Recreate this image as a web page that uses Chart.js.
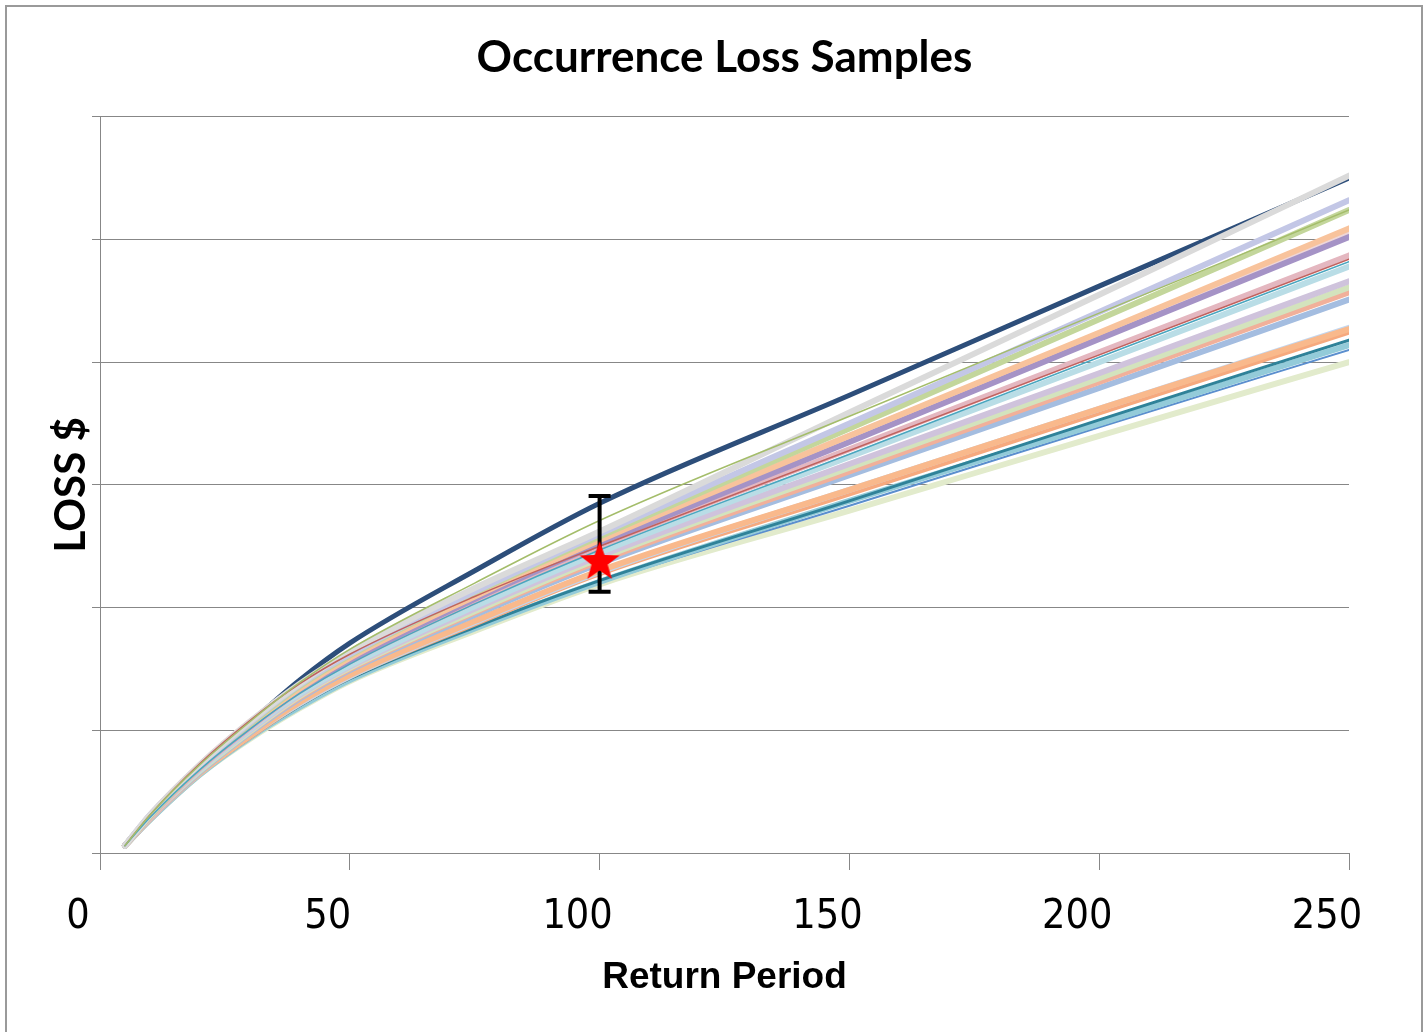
<!DOCTYPE html>
<html>
<head>
<meta charset="utf-8">
<title>Occurrence Loss Samples</title>
<script src="https://cdn.jsdelivr.net/npm/chart.js@4/dist/chart.umd.min.js"></script>
<style>
  html, body { margin: 0; padding: 0; background: #fff; overflow: hidden; }
  #frame { position: absolute; left: 5px; top: 5px; width: 1414px; height: 1100px; border: 2px solid #9a9a9a; }
  #chart { position: absolute; left: 0; top: 0; }
</style>
</head>
<body>
<div id="frame"></div>
<canvas id="chart" width="1427" height="1032"></canvas>
<script>
// Return periods sampled along every curve
const returnPeriods = [5, 10, 20, 30, 40, 50, 75, 100, 150, 200, 250];

// Loss samples (arbitrary units, axis has no labels)
const lossNavy      = [0.06, 0.30, 0.70, 1.06, 1.41, 1.71, 2.30, 2.85, 3.73, 4.62, 5.50];
const lossOlive     = [0.06, 0.31, 0.72, 1.07, 1.39, 1.66, 2.20, 2.71, 3.56, 4.40, 5.24];
const lossGrey      = [0.06, 0.31, 0.72, 1.07, 1.38, 1.64, 2.16, 2.62, 3.59, 4.55, 5.52];
const lossLavender  = [0.06, 0.31, 0.71, 1.06, 1.37, 1.62, 2.13, 2.60, 3.50, 4.41, 5.32];
const lossGreen     = [0.06, 0.30, 0.71, 1.05, 1.36, 1.61, 2.12, 2.58, 3.46, 4.35, 5.24];
const lossBlush     = [0.06, 0.31, 0.72, 1.07, 1.37, 1.62, 2.12, 2.57, 3.40, 4.22, 5.05];
const lossRose      = [0.06, 0.31, 0.73, 1.08, 1.38, 1.62, 2.09, 2.50, 3.28, 4.06, 4.84];
const lossPeach     = [0.06, 0.30, 0.70, 1.04, 1.34, 1.59, 2.09, 2.55, 3.40, 4.24, 5.09];
const lossPurple    = [0.06, 0.30, 0.70, 1.03, 1.33, 1.57, 2.07, 2.52, 3.35, 4.19, 5.02];
const lossPink      = [0.06, 0.29, 0.69, 1.02, 1.32, 1.56, 2.05, 2.50, 3.29, 4.08, 4.87];
const lossTealThin  = [0.06, 0.29, 0.68, 1.01, 1.30, 1.54, 2.03, 2.47, 3.25, 4.04, 4.82];
const lossSky       = [0.06, 0.29, 0.68, 1.01, 1.30, 1.53, 2.01, 2.45, 3.23, 4.00, 4.78];
const lossLilac     = [0.06, 0.29, 0.68, 1.00, 1.29, 1.52, 1.99, 2.42, 3.17, 3.91, 4.66];
const lossMint      = [0.06, 0.29, 0.67, 0.99, 1.28, 1.51, 1.97, 2.40, 3.14, 3.87, 4.61];
const lossSalmon    = [0.06, 0.28, 0.67, 0.99, 1.27, 1.50, 1.96, 2.38, 3.11, 3.84, 4.57];
const lossSteel     = [0.06, 0.28, 0.66, 0.98, 1.26, 1.49, 1.94, 2.36, 3.08, 3.79, 4.51];
const lossOrange    = [0.06, 0.28, 0.65, 0.96, 1.23, 1.45, 1.89, 2.30, 2.96, 3.62, 4.27];
const lossPaleBlue  = [0.06, 0.28, 0.65, 0.96, 1.22, 1.44, 1.88, 2.29, 2.96, 3.62, 4.28];
const lossApricot   = [0.06, 0.28, 0.65, 0.95, 1.22, 1.44, 1.87, 2.28, 2.93, 3.59, 4.25];
const lossTeal      = [0.06, 0.27, 0.64, 0.94, 1.20, 1.42, 1.84, 2.22, 2.87, 3.53, 4.18];
const lossAqua      = [0.06, 0.27, 0.64, 0.94, 1.19, 1.41, 1.83, 2.21, 2.87, 3.50, 4.14];
const lossBlue      = [0.06, 0.27, 0.64, 0.94, 1.19, 1.41, 1.82, 2.20, 2.83, 3.47, 4.10];
const lossLime      = [0.06, 0.27, 0.64, 0.93, 1.18, 1.40, 1.81, 2.19, 2.79, 3.40, 4.00];

// Mean loss at the 100 year return period and its range
const markerPeriod = [100];
const markerLoss   = [2.38];
const rangeLow     = [2.13];
const rangeHigh    = [2.91];

const xTicks = [0, 50, 100, 150, 200, 250];

const gridGrey = '#878787';
const fontFamily = 'Lato, "DejaVu Sans Condensed", sans-serif';

function curve(values, color, width) {
  return {
    type: 'line',
    data: returnPeriods.map((x, i) => ({ x: x, y: values[i] })),
    borderColor: color,
    borderWidth: width || 6,
    borderCapStyle: 'round',
    borderJoinStyle: 'round',
    cubicInterpolationMode: 'monotone',
    pointRadius: 0,
    fill: false
  };
}

// filled red star used as the marker image
function makeStar(outer, inner, color) {
  const c = document.createElement('canvas');
  const size = Math.ceil(outer * 2 + 2);
  c.width = size;
  c.height = size;
  const g = c.getContext('2d');
  g.translate(size / 2, size / 2 + 1);
  g.beginPath();
  for (let i = 0; i < 10; i++) {
    const r = i % 2 === 0 ? outer : inner;
    const a = -Math.PI / 2 + i * Math.PI / 5;
    g.lineTo(r * Math.cos(a), r * Math.sin(a));
  }
  g.closePath();
  g.fillStyle = color;
  g.fill();
  return c;
}

const starImg = makeStar(21, 8.5, '#ff0000');

// datasets are painted from the last one to the first
const datasets = [
  {
    type: 'scatter',
    data: markerPeriod.map((x, i) => ({ x: x, y: markerLoss[i] })),
    pointStyle: starImg,
    pointRadius: 21,
    showLine: false
  },
  curve(lossOlive, '#a4bd6a', 1.5),
  curve(lossTealThin, '#4aa6bf', 1.5),
  curve(lossRose, '#c0625e', 1.5),
  curve(lossGrey, '#dadada'),
  curve(lossLavender, '#c3c7e6'),
  curve(lossGreen, '#c3d69b'),
  curve(lossPeach, '#f8c39c'),
  curve(lossPurple, '#a593c6'),
  curve(lossBlush, '#eed7d8'),
  curve(lossPink, '#e4b7c0'),
  curve(lossSky, '#b9dde6'),
  curve(lossLilac, '#cfc3dc'),
  curve(lossMint, '#d3e3bd'),
  curve(lossSalmon, '#f1b09a'),
  curve(lossSteel, '#a4bde0'),
  curve(lossOrange, '#f9b98c'),
  curve(lossPaleBlue, '#c3d6ee'),
  curve(lossApricot, '#f6a97e'),
  curve(lossTeal, '#2f8299', 3),
  curve(lossAqua, '#93cbd9'),
  curve(lossBlue, '#5b8fce', 2),
  curve(lossLime, '#e2ebcc'),
  curve(lossNavy, '#2d4e7a', 5)
];

// black range bar drawn after all curves, under the star
const rangeBar = {
  id: 'rangeBar',
  afterDatasetDraw(chart, args) {
    if (args.index !== 1) return;
    const ctx = chart.ctx;
    const xs = chart.scales.x, ys = chart.scales.y;
    ctx.save();
    ctx.strokeStyle = '#000';
    ctx.lineWidth = 4;
    markerPeriod.forEach((p, i) => {
      const px = xs.getPixelForValue(p);
      const top = ys.getPixelForValue(rangeHigh[i]);
      const bot = ys.getPixelForValue(rangeLow[i]);
      ctx.beginPath();
      ctx.moveTo(px, top);
      ctx.lineTo(px, bot);
      ctx.moveTo(px - 11, top);
      ctx.lineTo(px + 11, top);
      ctx.moveTo(px - 11, bot);
      ctx.lineTo(px + 11, bot);
      ctx.stroke();
    });
    ctx.restore();
  }
};

new Chart(document.getElementById('chart'), {
  data: { datasets: datasets },
  plugins: [rangeBar],
  options: {
    responsive: false,
    devicePixelRatio: 1,
    animation: false,
    events: [],
    layout: { padding: { left: 0, right: 78, top: 0, bottom: 0 } },
    plugins: {
      legend: { display: false },
      tooltip: { enabled: false },
      title: {
        display: true,
        fullSize: false,
        text: 'Occurrence Loss Samples',
        color: '#000',
        font: { family: fontFamily, size: 44, weight: 'bold' },
        padding: { top: 31, bottom: 33 }
      }
    },
    scales: {
      x: {
        type: 'linear',
        min: 0,
        max: 250,
        afterBuildTicks(scale) { scale.ticks = xTicks.map(v => ({ value: v })); },
        afterFit(scale) { scale.height = 179; },
        border: { color: gridGrey, width: 1 },
        grid: { drawOnChartArea: false, drawTicks: true, tickLength: 17, color: gridGrey },
        ticks: {
          color: '#000',
          padding: 23,
          labelOffset: -22,
          maxRotation: 0,
          font: { family: '"DejaVu Sans Condensed", sans-serif', size: 41 }
        },
        title: {
          display: true,
          text: 'Return Period',
          color: '#000',
          font: { family: '"Liberation Sans", Arial, sans-serif', size: 37, weight: 'bold' },
          padding: { top: 0, bottom: 32 }
        }
      },
      y: {
        type: 'linear',
        min: 0,
        max: 6,
        afterFit(scale) { scale.width = 100; },
        border: { color: gridGrey, width: 1 },
        grid: { color: gridGrey, lineWidth: 1, tickLength: 8 },
        ticks: { stepSize: 1, callback: () => '', padding: 0 },
        title: {
          display: true,
          text: 'LOSS $',
          color: '#000',
          font: { family: fontFamily, size: 42, weight: 'bold' },
          padding: { top: 46, bottom: 0 }
        }
      }
    }
  }
});
</script>
</body>
</html>
